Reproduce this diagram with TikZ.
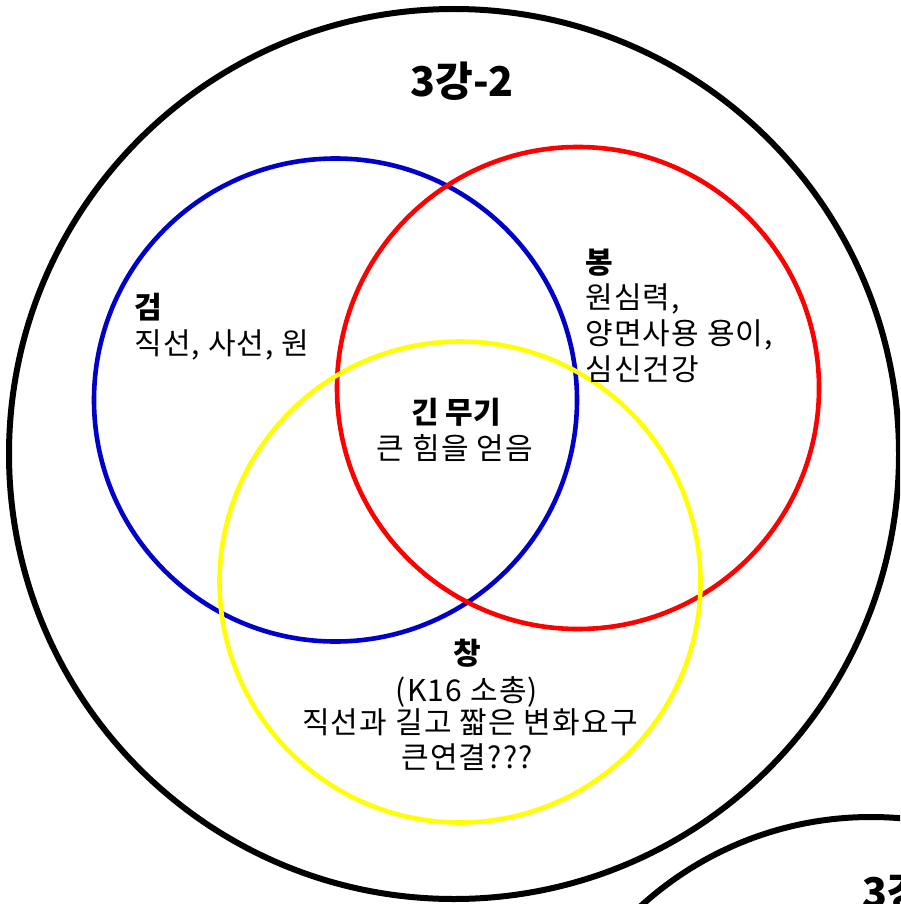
\documentclass[tikz,border=0pt]{standalone}
\usepackage{fontspec}
\setmainfont{Noto Sans CJK KR}
\newfontfamily\widefont[LetterSpace=4]{Noto Sans CJK KR}
\definecolor{vblue}{RGB}{0,0,200}
\definecolor{vred}{RGB}{255,0,0}
\definecolor{vyellow}{RGB}{255,255,0}
\tikzset{
  outer/.style={draw=black,line width=6pt},
  ring/.style={line width=4.6pt},
  body/.style={inner sep=0pt,font=\widefont\fontsize{30}{36}\selectfont},
  head/.style={inner sep=0pt,font=\fontsize{30}{36}\selectfont\bfseries},
  title/.style={inner sep=0pt,font=\fontsize{41}{48}\selectfont\bfseries},
}
\begin{document}
\begin{tikzpicture}[x=1pt,y=-1pt]
\useasboundingbox (0,0) rectangle (900,904);
\clip (0,0) rectangle (900,904);
\fill[white] (0,0) rectangle (900,904);
% outer circles
\draw[outer] (454,454) circle[radius=445];
\draw[outer] (871,1159) circle[radius=342];
% venn circles
\draw[ring,draw=vblue] (335.5,400) circle[radius=241.5];
\draw[ring,draw=vred] (578,388) circle[radius=241];
\draw[ring,draw=vyellow] (460,582) circle[radius=240.5];
% titles
\node[title,anchor=base] (t1) at (462,97) {3강-2};
\node[title,anchor=base west] (t2) at (862,907) {3강};
% sword
\node[head,anchor=base west] (gh) at (134,318) {검};
\node[body,anchor=base west] (g1) at (134,354) {직선, 사선, 원};
% staff
\node[head,anchor=base west] (bh) at (585,273) {봉};
\node[body,anchor=base west] (b1) at (585,308) {원심력,};
\node[body,anchor=base west] (b2) at (585,344) {양면사용 용이,};
\node[body,anchor=base west] (b3) at (585,380) {심신건강};
% centre
\node[head,anchor=base] (ch) at (456,423) {긴 무기};
\node[body,anchor=base] (c1) at (455,459) {큰 힘을 얻음};
% spear
\node[head,anchor=base] (sh) at (467,664) {창};
\node[body,anchor=base] (s1) at (467,701) {(K16 소총)};
\node[body,anchor=base] (s2) at (470,733) {직선과 길고 짧은 변화요구};
\node[body,anchor=base] (s3) at (467,768) {큰연결???};
\end{tikzpicture}
\end{document}
